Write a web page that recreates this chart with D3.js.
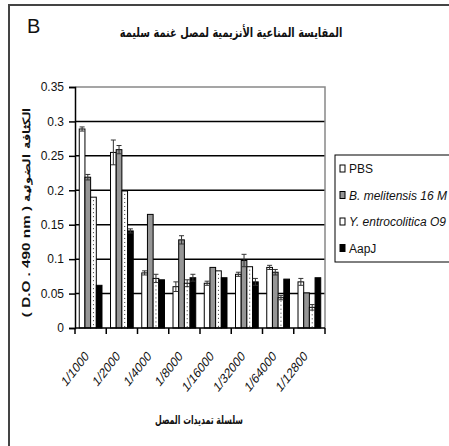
<!doctype html>
<html lang="ar">
<head>
<meta charset="utf-8" />
<style>
  body { margin: 0; background: #fff; }
  svg text { font-family: "Liberation Sans", Arial, sans-serif; fill: #111; }
  .arabic { font-family: "DejaVu Sans", "Noto Sans", sans-serif; font-weight: bold; }
</style>
</head>
<body>
<div id="chart"></div>
<script src="https://d3js.org/d3.v7.min.js"></script>
<script>
  // dilutions on the x axis
  var dilutions = ["1/1000", "1/2000", "1/4000", "1/8000", "1/16000", "1/32000", "1/64000", "1/12800"];
  var seriesNames = ["PBS", "B. melitensis 16 M", "Y. entrocolitica O9", "AapJ"];

  // optical density values
  var pbs     = [0.289, 0.255, 0.080, 0.060, 0.065, 0.078, 0.088, 0.067];
  var melit   = [0.219, 0.259, 0.165, 0.128, 0.088, 0.098, 0.081, 0.051];
  var yers    = [0.190, 0.199, 0.072, 0.065, 0.083, 0.089, 0.044, 0.030];
  var aapj    = [0.062, 0.141, 0.070, 0.073, 0.073, 0.067, 0.071, 0.073];

  // error bars (+/-)
  var pbsErr   = [0.003, 0.018, 0.003, 0.007, 0.003, 0.003, 0.003, 0.005];
  var melitErr = [0.004, 0.006, 0.000, 0.006, 0.000, 0.009, 0.004, 0.000];
  var yersErr  = [0.000, 0.000, 0.006, 0.005, 0.000, 0.000, 0.003, 0.004];
  var aapjErr  = [0.000, 0.003, 0.000, 0.005, 0.000, 0.005, 0.000, 0.000];

  var yTicks = [0, 0.05, 0.1, 0.15, 0.2, 0.25, 0.3, 0.35];

  var width = 449, height = 446;
  var squeeze = 0.78; // the picture is squashed sideways
  var svg = d3.select("#chart").append("svg")
      .attr("width", width)
      .attr("height", height);

  // fit a text element to a given width by squeezing it horizontally
  function fitWidth(sel, cx, baseline, target) {
    var len = sel.node().getComputedTextLength();
    sel.attr("x", 0).attr("y", 0)
       .attr("transform", "translate(" + cx + "," + baseline + ") scale(" + (target / len) + ",1)");
  }

  // outer frame
  svg.append("path")
      .attr("d", "M9,446 V5 H449")
      .attr("fill", "none")
      .attr("stroke", "#444")
      .attr("stroke-width", 2);

  svg.append("text")
      .attr("x", 27).attr("y", 33)
      .style("font-family", "'Liberation Sans Narrow', sans-serif")
      .style("font-size", "20px")
      .text("B");

  var title = svg.append("text")
      .attr("class", "arabic")
      .attr("text-anchor", "middle")
      .attr("direction", "rtl")
      .style("font-size", "13px")
      .text("المقايسة المناعية الأنزيمية لمصل غنمة سليمة");
  fitWidth(title, 231, 37, 223);

  var plot = {left: 75, right: 325, top: 87, bottom: 328};

  var y = d3.scaleLinear().domain([0, 0.35]).range([plot.bottom, plot.top]);
  var x0 = d3.scaleBand().domain(dilutions).range([plot.left, plot.right]);
  var x1 = d3.scaleBand().domain(seriesNames).range([0, x0.bandwidth()]).paddingOuter(0.75);

  var fills = ["#fff", "#969696", "#fff", "#000"];
  var values = [pbs, melit, yers, aapj];
  var errs = [pbsErr, melitErr, yersErr, aapjErr];

  // gridlines
  svg.append("g").selectAll("line")
      .data(yTicks.filter(function(t) { return t > 0 && t < 0.35; }))
      .enter().append("line")
      .attr("x1", plot.left).attr("x2", plot.right)
      .attr("y1", function(d) { return y(d); })
      .attr("y2", function(d) { return y(d); })
      .attr("stroke", "#000")
      .attr("stroke-width", 1.5);

  // plot border top / right
  svg.append("path")
      .attr("d", "M" + plot.left + "," + y(0.35) + " H" + plot.right + " V" + plot.bottom)
      .attr("fill", "none")
      .attr("stroke", "#888")
      .attr("stroke-width", 1.5);

  var rows = [];
  seriesNames.forEach(function(s, i) {
    dilutions.forEach(function(d, j) {
      rows.push({s: s, si: i, cat: d, v: values[i][j], e: errs[i][j]});
    });
  });

  svg.append("g").selectAll("rect")
      .data(rows)
      .enter().append("rect")
      .attr("x", function(d) { return x0(d.cat) + x1(d.s); })
      .attr("y", function(d) { return y(d.v); })
      .attr("width", x1.bandwidth())
      .attr("height", function(d) { return y(0) - y(d.v); })
      .attr("fill", function(d) { return fills[d.si]; })
      .attr("stroke", "#000")
      .attr("stroke-width", 1);

  // dotted fill of the Y. entrocolitica bars
  svg.append("g").selectAll("line")
      .data(rows.filter(function(d) { return d.si === 2; }))
      .enter().append("line")
      .attr("x1", function(d) { return x0(d.cat) + x1(d.s) + x1.bandwidth() / 2; })
      .attr("x2", function(d) { return x0(d.cat) + x1(d.s) + x1.bandwidth() / 2; })
      .attr("y1", function(d) { return y(d.v) + 3; })
      .attr("y2", y(0) - 1)
      .attr("stroke", "#333")
      .attr("stroke-width", 1)
      .attr("stroke-dasharray", "1,3");

  var eb = svg.append("g").attr("stroke", "#333").attr("stroke-width", 1);
  rows.filter(function(d) { return d.e > 0; }).forEach(function(d) {
    var cx = x0(d.cat) + x1(d.s) + x1.bandwidth() / 2;
    eb.append("line").attr("x1", cx).attr("x2", cx).attr("y1", y(d.v + d.e)).attr("y2", y(d.v - d.e));
    eb.append("line").attr("x1", cx - 2.5).attr("x2", cx + 2.5).attr("y1", y(d.v + d.e)).attr("y2", y(d.v + d.e));
    eb.append("line").attr("x1", cx - 2.5).attr("x2", cx + 2.5).attr("y1", y(d.v - d.e)).attr("y2", y(d.v - d.e));
  });

  // axes
  var yAxis = svg.append("g")
      .attr("transform", "translate(" + plot.left + ",0)")
      .call(d3.axisLeft(y).tickValues(yTicks).tickSize(6).tickPadding(5)
        .tickFormat(function(d) { return d === 0 ? "0" : String(+d.toFixed(2)); }));
  yAxis.select(".domain").attr("stroke", "#000").attr("stroke-width", 1.5);
  yAxis.selectAll(".tick line").attr("stroke", "#000").attr("stroke-width", 1.5);
  yAxis.selectAll(".tick text")
      .style("font-family", "'Liberation Sans Narrow', sans-serif")
      .style("font-size", "12px")
      .attr("fill", "#111");

  var xTickPos = dilutions.map(function(d) { return x0(d); }).concat([plot.right]);
  var xAxis = svg.append("g").attr("transform", "translate(0," + plot.bottom + ")");
  xAxis.append("line").attr("x1", plot.left).attr("x2", plot.right)
      .attr("stroke", "#000").attr("stroke-width", 1.5);
  xAxis.selectAll(".xt").data(xTickPos).enter().append("line")
      .attr("x1", function(d) { return d; }).attr("x2", function(d) { return d; })
      .attr("y1", 0).attr("y2", 6)
      .attr("stroke", "#000").attr("stroke-width", 1.5);
  xAxis.selectAll("text").data(dilutions).enter().append("text")
      .attr("text-anchor", "end")
      .style("font-size", "14px")
      .attr("transform", function(d) {
        return "translate(" + (x0(d) + x0.bandwidth() / 2 - 1) + ",29) scale(" + squeeze + ",1) rotate(-45)";
      })
      .text(function(d) { return d; });

  var xTitle = svg.append("text")
      .attr("class", "arabic")
      .attr("text-anchor", "middle")
      .attr("direction", "rtl")
      .style("font-size", "12px")
      .text("سلسلة تمديدات المصل");
  fitWidth(xTitle, 199, 424, 88);

  var yTitle = svg.append("text")
      .attr("text-anchor", "middle")
      .style("font-size", "12px")
      .style("font-weight", "bold")
      .text("( D.O . 490 nm ) الكثافة الضوئية");
  var yLen = yTitle.node().getComputedTextLength();
  yTitle.attr("transform", "translate(30,212) scale(0.85,1) rotate(-90) scale(" + (209 / yLen) + ",1)");

  // legend
  var lg = svg.append("g");
  lg.append("rect")
      .attr("x", 335).attr("y", 155)
      .attr("width", 140).attr("height", 107)
      .attr("fill", "#fff").attr("stroke", "#000").attr("stroke-width", 1);
  seriesNames.forEach(function(s, i) {
    var cy = 169 + i * 26.5;
    lg.append("rect")
        .attr("x", 340).attr("y", cy - 4).attr("width", 5).attr("height", 7)
        .attr("fill", fills[i])
        .attr("stroke", "#000").attr("stroke-width", 1);
    lg.append("text")
        .attr("x", 349).attr("y", cy + 4)
        .style("font-size", "12px")
        .style("font-style", i === 1 || i === 2 ? "italic" : "normal")
        .text(s);
  });
</script>
</body>
</html>
